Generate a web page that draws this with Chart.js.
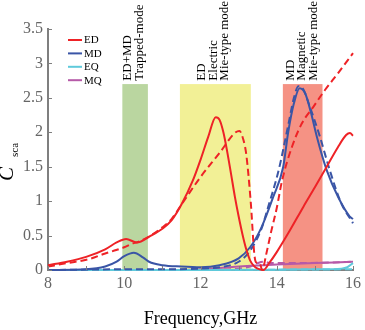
<!DOCTYPE html>
<html>
<head>
<meta charset="utf-8">
<script src="https://cdn.jsdelivr.net/npm/chart.js@4.4.1/dist/chart.umd.min.js"></script>
<style>
  html, body { margin: 0; padding: 0; background: #ffffff; }
  #wrap { width: 365px; height: 330px; position: relative; }
</style>
</head>
<body>
<div id="wrap"><canvas id="c" width="365" height="330"></canvas></div>
<script>
// ---- Data ----
// ED, solid
const edF  = [8, 8.5, 9, 9.5, 9.8, 10.05, 10.33, 10.7, 11, 11.24, 11.5, 11.8, 12, 12.2, 12.4, 12.5, 12.6, 12.7, 12.8, 12.9, 13.0, 13.1, 13.2, 13.3, 13.4, 13.5, 13.65, 13.8, 14.0, 14.35, 14.7, 15.0, 15.31, 15.6, 15.82, 15.92, 16];
const edV  = [0.07, 0.12, 0.19, 0.3, 0.4, 0.45, 0.40, 0.5, 0.6, 0.72, 0.95, 1.3, 1.6, 1.93, 2.22, 2.18, 2.0, 1.72, 1.4, 1.07, 0.78, 0.52, 0.3, 0.14, 0.06, 0.02, 0.0, 0.1, 0.26, 0.58, 0.92, 1.2, 1.5, 1.78, 1.96, 1.99, 1.95];
// ED, dashed
const edDF = [8, 8.5, 9.09, 9.5, 9.79, 10.0, 10.2, 10.38, 10.72, 11.0, 11.24, 11.5, 12.0, 12.5, 12.9, 13.02, 13.12, 13.2, 13.32, 13.41, 13.46, 13.55, 13.62, 13.72, 13.85, 14.0, 14.14, 14.4, 14.66, 14.96, 15.26, 15.61, 16];
const edDV = [0.05, 0.1, 0.16, 0.24, 0.29, 0.33, 0.38, 0.41, 0.51, 0.62, 0.74, 0.95, 1.35, 1.70, 1.99, 2.02, 1.9, 1.68, 0.97, 0.24, 0.11, 0.1, 0.0, 0.22, 0.55, 0.9, 1.3, 1.79, 2.13, 2.37, 2.61, 2.86, 3.15];
// MD, solid
const mdF  = [8, 9, 9.5, 9.8, 10.0, 10.25, 10.5, 10.65, 11.0, 11.5, 12.0, 12.5, 13.0, 13.3, 13.6, 13.9, 14.17, 14.3, 14.45, 14.6, 14.75, 14.9, 15.05, 15.31, 15.61, 15.91, 16];
const mdV  = [0.0, 0.01, 0.05, 0.12, 0.2, 0.25, 0.18, 0.12, 0.07, 0.05, 0.04, 0.07, 0.17, 0.33, 0.62, 1.05, 1.5, 2.0, 2.42, 2.64, 2.56, 2.28, 1.94, 1.45, 1.06, 0.78, 0.74];
// MD, dashed
const mdDF = [8, 10, 11, 12, 12.5, 13.0, 13.3, 13.6, 13.75, 14.05, 14.3, 14.45, 14.57, 14.7, 14.85, 15.13, 15.39, 15.69, 16];
const mdDV = [0.0, 0.01, 0.01, 0.02, 0.04, 0.12, 0.28, 0.6, 0.87, 1.45, 2.1, 2.5, 2.67, 2.62, 2.4, 1.94, 1.45, 0.97, 0.68];
// EQ, solid / dashed
const eqF  = [8, 12, 14, 15, 15.7, 15.85, 16];
const eqV  = [0, 0, 0.005, 0.01, 0.02, 0.04, 0.1];
const eqDF = [8, 12, 14, 16];
const eqDV = [0, 0, 0.005, 0.01];
// MQ, solid / dashed
const mqF  = [8, 11.5, 12, 12.5, 13, 13.5, 14, 15, 16];
const mqV  = [0, 0, 0.01, 0.03, 0.05, 0.065, 0.08, 0.1, 0.12];
const mqDF = [8, 12.5, 13.0, 13.3, 13.5, 13.65, 13.85, 14.5, 15.5, 16];
const mqDV = [0, 0.005, 0.02, 0.05, 0.1, 0.12, 0.1, 0.1, 0.11, 0.12];

// Shaded bands (GHz) and their labels
const bandStart = [9.95, 11.46, 14.16];
const bandEnd   = [10.62, 13.32, 15.2];
const bandTop   = 2.7;
const bandLabels = [["ED+MD", "Trapped-mode"], ["ED", "Electric", "Mie-type mode"], ["MD", "Magnetic", "Mie-type mode"]];
const bandLabelX = [10.18, 12.12, 14.45];
const bandLabelBase = 2.75;

const seriesNames = ["ED", "MD", "EQ", "MQ"];
const xTickMin = 8, xTickMax = 16;
const yTickMin = 0, yTickMax = 3.5;

// ---- Styles ----
const FONT = "'Liberation Serif', 'Times New Roman', serif";
Chart.defaults.font.family = FONT;
const colors = { ED: '#ee2226', MD: '#3a55a6', EQ: '#5fcadb', MQ: '#b65aa8' };
const bandColors = ['rgb(186,214,160)', 'rgb(242,240,150)', 'rgb(245,146,132)'];
const AXIS = '#7f7f7f';

function pts(f, v) { return f.map((x, i) => ({ x: x, y: v[i] })); }
function ds(name, f, v, dashed) {
  return {
    label: name + (dashed ? ' (dashed)' : ''),
    data: pts(f, v),
    borderColor: colors[name],
    backgroundColor: colors[name],
    borderWidth: 2,
    borderDash: dashed ? [7, 4] : [],
    pointRadius: 0,
    fill: false,
    cubicInterpolationMode: 'monotone',
    clip: 2
  };
}

const datasets = [
  ds('ED', edF, edV, false), ds('ED', edDF, edDV, true),
  ds('MD', mdF, mdV, false), ds('MD', mdDF, mdDV, true),
  ds('EQ', eqF, eqV, false), ds('EQ', eqDF, eqDV, true),
  ds('MQ', mqF, mqV, false), ds('MQ', mqDF, mqDV, true)
];

const decor = {
  id: 'decor',
  beforeDatasetsDraw(chart) {
    const ctx = chart.ctx, x = chart.scales.x, y = chart.scales.y;
    ctx.save();
    for (let i = 0; i < bandStart.length; i++) {
      const x0 = x.getPixelForValue(bandStart[i]), x1 = x.getPixelForValue(bandEnd[i]);
      const y0 = y.getPixelForValue(bandTop), y1 = y.getPixelForValue(0);
      ctx.fillStyle = bandColors[i];
      ctx.fillRect(x0, y0, x1 - x0, y1 - y0);
    }
    ctx.restore();
  },
  afterDraw(chart) {
    const ctx = chart.ctx, x = chart.scales.x, y = chart.scales.y;
    const ca = chart.chartArea;
    ctx.save();
    // inward tick marks
    ctx.strokeStyle = AXIS; ctx.lineWidth = 1;
    x.ticks.forEach(t => {
      const px = Math.round(x.getPixelForValue(t.value)) + 0.5;
      ctx.beginPath(); ctx.moveTo(px, ca.bottom); ctx.lineTo(px, ca.bottom - 4); ctx.stroke();
    });
    y.ticks.forEach(t => {
      const py = Math.round(y.getPixelForValue(t.value)) + 0.5;
      ctx.beginPath(); ctx.moveTo(ca.left, py); ctx.lineTo(ca.left + 4, py); ctx.stroke();
    });
    // band labels (rotated)
    ctx.fillStyle = '#000';
    ctx.font = '13px ' + FONT;
    ctx.textAlign = 'left';
    ctx.textBaseline = 'alphabetic';
    const by = y.getPixelForValue(bandLabelBase);
    for (let i = 0; i < bandLabels.length; i++) {
      const bx = x.getPixelForValue(bandLabelX[i]);
      bandLabels[i].forEach((s, k) => {
        ctx.save();
        ctx.translate(bx + k * 11.5, by);
        ctx.rotate(-Math.PI / 2);
        ctx.fillText(s, 0, 0);
        ctx.restore();
      });
    }
    // legend
    ctx.font = '11px ' + FONT;
    ctx.textBaseline = 'middle';
    seriesNames.forEach((n, i) => {
      const ly = 40 + i * 13.4;
      ctx.strokeStyle = colors[n]; ctx.lineWidth = 2;
      ctx.beginPath(); ctx.moveTo(68, ly); ctx.lineTo(82, ly); ctx.stroke();
      ctx.fillStyle = '#000';
      ctx.fillText(n, 84, ly + 0.5);
    });
    // y axis title: C_sca
    ctx.save();
    ctx.translate(13, 181);
    ctx.rotate(-Math.PI / 2);
    ctx.textBaseline = 'alphabetic';
    ctx.font = 'italic 21px ' + FONT;
    ctx.fillText('C', 0, 0);
    ctx.font = '11px ' + FONT;
    ctx.fillText('sca', 24, 5);
    ctx.restore();
    ctx.restore();
  }
};

new Chart(document.getElementById('c'), {
  type: 'line',
  data: { datasets: datasets },
  options: {
    responsive: false,
    animation: false,
    events: [],
    layout: { padding: { left: 0, right: 8, top: 29, bottom: 0 } },
    plugins: { legend: { display: false }, tooltip: { enabled: false } },
    scales: {
      x: {
        type: 'linear', min: xTickMin, max: xTickMax,
        border: { display: true, color: AXIS, width: 2 },
        grid: { display: true, drawOnChartArea: false, drawTicks: false, color: 'rgba(0,0,0,0)' },
        ticks: {
          stepSize: 1, padding: 4, color: '#666', font: { family: FONT, size: 16 },
          maxRotation: 0, autoSkip: false,
          callback: v => (v % 2 === 0 ? String(v) : '')
        },
        title: { display: true, text: 'Frequency,GHz', color: '#000', font: { family: FONT, size: 18 }, padding: { top: 2, bottom: 0 } },
        afterFit(s) { s.height = 60; }
      },
      y: {
        type: 'linear', min: yTickMin, max: yTickMax,
        border: { display: true, color: AXIS, width: 2 },
        grid: { display: true, drawOnChartArea: false, drawTicks: false, color: 'rgba(0,0,0,0)' },
        ticks: {
          stepSize: 0.5, padding: 5, color: '#666', font: { family: FONT, size: 16 },
          callback: v => String(Math.round(v * 10) / 10)
        },
        afterFit(s) { s.width = 48; }
      }
    }
  },
  plugins: [decor]
});
</script>
</body>
</html>
